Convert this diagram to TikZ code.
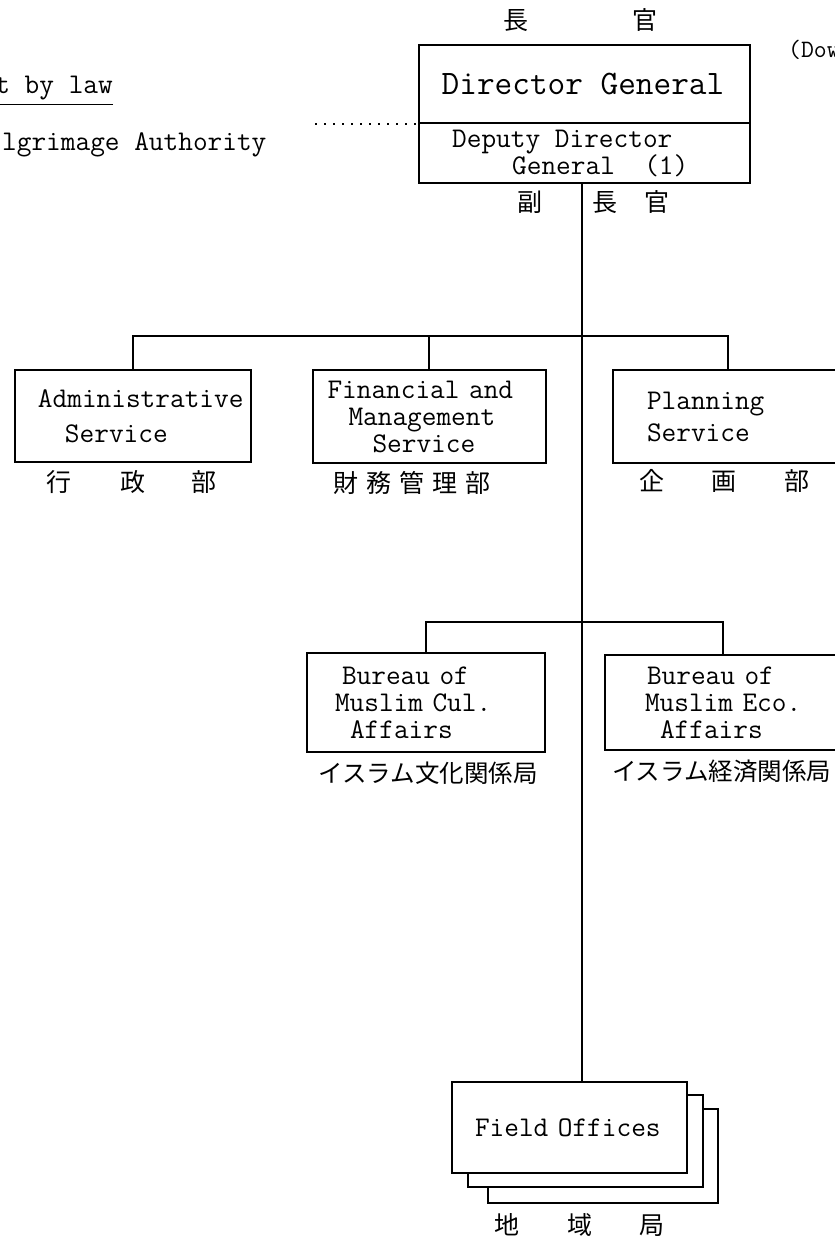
\documentclass[tikz,border=0pt]{standalone}
\usepackage{fontspec}
\newfontfamily\jpfont{Noto Sans CJK JP}
\begin{document}
\begin{tikzpicture}[
    x=1pt, y=-1pt,
    box/.style={rectangle, draw, line width=2pt, inner xsep=0pt, inner ysep=0pt, align=left,
                font=\ttfamily\fontsize{28.5}{27}\selectfont},
    link/.style={line width=1.8pt},
    dotrule/.style={line width=2pt, dash pattern=on 1.8pt off 7.2pt},
    jp/.style={font=\jpfont\fontsize{25}{25}\selectfont, inner sep=0pt},
    jpwide/.style={font=\jpfont\fontsize{24.5}{24.5}\selectfont, inner sep=0pt},
    note/.style={font=\ttfamily\fontsize{28.5}{28.5}\selectfont, inner sep=0pt}
]
    \clip (0,0) rectangle (835,1240);

    % top
    \node[jp] (chokan) at (580.5,20) {長\hspace{104pt}官};
    \node[box, minimum width=331pt, minimum height=138pt] (dg) at (584.5,114) {};
    \coordinate (divy) at (0,123);
    \draw[line width=1.6pt] (dg.west |- divy) -- (dg.east |- divy);
    \node[note, font=\ttfamily\fontsize{34.3}{34.3}\selectfont] (dgname) at (583,84) {Director General};
    \node[note, anchor=west, align=left, font=\ttfamily\fontsize{28.5}{27}\selectfont] (dgdep) at (452,153)
        {Deputy Director\\\hspace*{60pt}General\ \ (1)};
    \node[jp] (fuku) at (593.5,202) {副\hspace{50pt}長\hspace{27pt}官};
    \node[note, anchor=west, font=\ttfamily\fontsize{25}{25}\selectfont] (down) at (788,50) {(Dow};

    % left notes
    \node[note, anchor=east, inner ysep=4pt] (lawtxt) at (113,88) {t by law};
    \draw[line width=1.3pt] (lawtxt.south east) -- (lawtxt.south east -| 0,0);
    \node[note, anchor=west] (hajj) at (2,145) {lgrimage Authority};
    \coordinate (dotstart) at (315,124);
    \draw[dotrule] (dotstart) -- (dotstart -| dg.west);

    % services
    \node[box, text width=236pt, minimum height=92pt] (admin) at (133,416)
        {\hspace*{23pt}Administrative\\[8pt]\hspace*{50pt}Service};
    \node[box, text width=233pt, minimum height=93pt] (fin) at (429,416.5)
        {\hspace*{15pt}Financial and\\\hspace*{36pt}Management\\\hspace*{60pt}Service};
    \node[box, text width=230pt, minimum height=93pt] (plan) at (728,416.5)
        {\hspace*{34pt}Planning\\[5pt]\hspace*{34pt}Service};
    \node[jp] (gyosei) at (131.5,482) {行\hspace{49pt}政\hspace{46pt}部};
    \node[jp] (zaimu) at (412,483) {財\hspace{8pt}務\hspace{8pt}管\hspace{8pt}理\hspace{8pt}部};
    \node[jp] (kikaku) at (724.5,481) {企\hspace{47pt}画\hspace{48pt}部};

    % bureaus
    \node[box, text width=238pt, minimum height=99pt] (cul) at (426,702.5)
        {\hspace*{35pt}Bureau of\\\hspace*{28pt}Muslim Cul.\\\hspace*{43pt}Affairs};
    \node[box, text width=236pt, minimum height=95pt] (eco) at (723,702.5)
        {\hspace*{42pt}Bureau of\\\hspace*{40pt}Muslim Eco.\\\hspace*{55pt}Affairs};
    \node[jpwide] (bunka) at (428,773) {イスラム文化関係局};
    \node[jpwide, anchor=west] (keizai) at (612,771) {イスラム経済関係局};

    % field offices
    \node[box, fill=white, minimum width=230pt, minimum height=94pt] (fieldback) at (603,1156) {};
    \node[box, fill=white, minimum width=235pt, minimum height=92pt] (fieldmid) at (585.5,1141) {};
    \node[box, fill=white, text width=235pt, minimum height=91pt] (field) at (569.5,1127.5)
        {\hspace*{23pt}Field Offices};
    \node[jp] (chiiki) at (579.5,1225) {地\hspace{48pt}域\hspace{47pt}局};

    % connectors
    \coordinate (spine) at (582,0);
    \coordinate (busA) at (0,336);
    \coordinate (busB) at (0,622);
    \draw[link] (dg.south -| spine) -- (field.north -| spine);
    \draw[link] (admin.north) -- (admin.north |- busA) -- (plan.north |- busA) -- (plan.north);
    \draw[link] (fin.north) -- (fin.north |- busA);
    \draw[link] (cul.north) -- (cul.north |- busB) -- (eco.north |- busB) -- (eco.north);
\end{tikzpicture}
\end{document}
